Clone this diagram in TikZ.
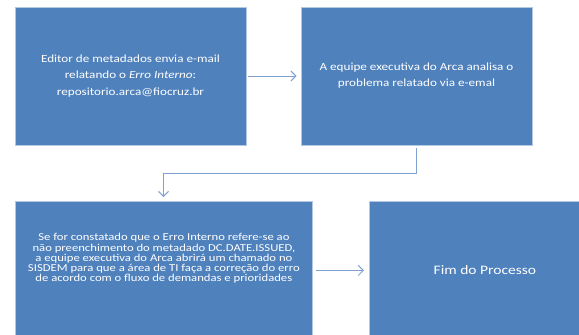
\documentclass[tikz,border=0pt]{standalone}
\usepackage{fontspec}
\setmainfont{Carlito}[FakeStretch=1.2]
\usepackage{xcolor}
\usetikzlibrary{arrows.meta}
\definecolor{boxblue}{HTML}{4F81BD}
\definecolor{boxedge}{HTML}{B4C8E4}
\definecolor{lineblue}{HTML}{7FA2D2}

\begin{document}
\begin{tikzpicture}[x=1bp,y=-1bp,font=\fontsize{11}{16}\selectfont,
  stepbox/.style={rectangle,fill=boxblue,draw=boxedge,line width=0.8bp,text=white,inner sep=0pt,
    minimum width=231bp,minimum height=138bp},
  flow/.style={draw=lineblue,line width=1bp,-{Straight Barb[length=5bp,width=10bp]}}]
\useasboundingbox (0,0) rectangle (579,334);
\node[stepbox,align=center] (editor) at (130.5,76)
   {Editor de metadados envia e-mail\\relatando o \textit{Erro Interno}:\\[1.7bp]repositorio.arca@fiocruz.br};
\node[stepbox,align=center] (equipe) at (416.5,76)
   {\fontsize{11}{14.3}\selectfont A equipe executiva do Arca analisa o\\problema relatado via e-emal};
\node[stepbox,minimum width=297bp,anchor=north west] (sisdem) at (15,201)
   {\fontsize{10.6}{10}\selectfont\raisebox{8.5bp}[0pt][0pt]{\begin{tabular}{@{}c@{}}
    Se for constatado que o Erro Interno refere-se ao\\
    não preenchimento do metadado DC.DATE.ISSUED,\\
    a equipe executiva do Arca abrirá um chamado no\\
    SISDEM para que a área de TI faça a correção do erro\\
    de acordo com o fluxo de demandas e prioridades\end{tabular}}};
\node[stepbox,anchor=north west] (fim) at (369,201)
   {\fontsize{13}{16}\selectfont Fim do Processo};
\coordinate (bend) at (163.5,173);
% conectores
\draw[flow,shorten <=2bp,shorten >=4bp] (editor.east) -- (equipe.west);
\draw[flow,shorten <=3bp,shorten >=4bp] (equipe.south) |- (bend) -- (sisdem.north -| bend);
\draw[flow,shorten <=3bp,shorten >=5bp] (sisdem.east) -- (sisdem.east -| fim.west);
\end{tikzpicture}
\end{document}
